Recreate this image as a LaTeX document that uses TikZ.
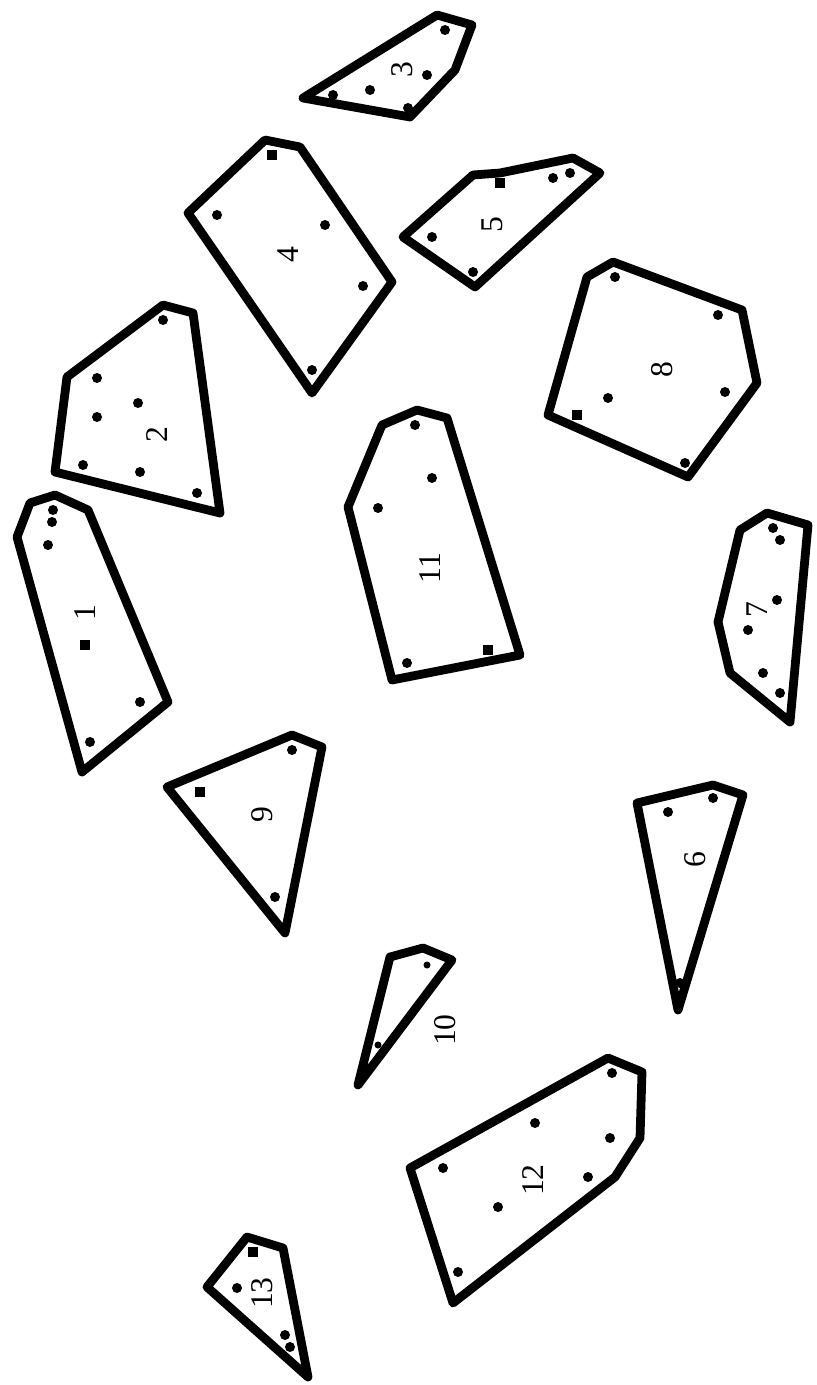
\documentclass[tikz,border=0pt]{standalone}
\usepackage{fontspec}
\setmainfont{Liberation Serif}
\tikzset{
  piece/.style={line width=5pt,line join=round},
  num/.style={rotate=90,font=\fontsize{18}{20}\selectfont,inner sep=0pt},
  pin/.style={fill=black}
}
\begin{document}
\begin{tikzpicture}[x=0.2mm,y=-0.2mm]
  \useasboundingbox (0,0) rectangle (817,1385);
  \def\r{5}
  % piece 1
  \draw[piece] (55,495)--(88,510)--(168,702)--(82,772)--(17,537)--(30,503)--cycle;
  \foreach \p in {(53,510),(52,522),(48,545),(140,702),(90,742)} \fill[pin] \p circle (\r);
  \fill[pin] (80,640) rectangle (90,650);
  \node[num] (l1) at (85,613) {1};
  % piece 2
  \draw[piece] (163,305)--(193,313)--(220,513)--(55,472)--(67,377)--cycle;
  \foreach \p in {(163,320),(97,378),(138,403),(97,417),(83,465),(140,472),(197,493)} \fill[pin] \p circle (\r);
  \node[num] (l2) at (157,435) {2};
  % piece 3
  \draw[piece] (303,98)--(437,15)--(472,25)--(455,70)--(410,117)--cycle;
  \foreach \p in {(445,30),(370,90),(427,75),(333,95),(408,108)} \fill[pin] \p circle (\r);
  \node[num] (l3) at (402,70) {3};
  % piece 4
  \draw[piece] (265,140)--(300,147)--(392,282)--(312,393)--(188,213)--cycle;
  \foreach \p in {(217,215),(325,225),(363,286),(312,370)} \fill[pin] \p circle (\r);
  \fill[pin] (267,150) rectangle (277,160);
  \node[num] (l4) at (288,255) {4};
  % piece 5
  \draw[piece] (403,237)--(473,175)--(500,173)--(573,158)--(600,173)--(475,287)--cycle;
  \foreach \p in {(553,178),(570,173),(432,237),(473,272)} \fill[pin] \p circle (\r);
  \fill[pin] (495,178) rectangle (505,188);
  \node[num] (l5) at (492,225) {5};
  % piece 6
  \draw[piece] (637,803)--(713,785)--(743,795)--(678,1010)--cycle;
  \foreach \p in {(668,812),(713,798),(680,983)} \fill[pin] \p circle (\r);
  \node[num] (l6) at (695,860) {6};
  % piece 7
  \draw[piece] (740,530)--(767,513)--(808,525)--(790,722)--(730,673)--(718,622)--cycle;
  \foreach \p in {(773,528),(780,540),(777,600),(748,630),(763,673),(780,693)} \fill[pin] \p circle (\r);
  \node[num] (l7) at (757,610) {7};
  % piece 8
  \draw[piece] (587,277)--(613,262)--(742,310)--(757,383)--(688,477)--(548,415)--cycle;
  \foreach \p in {(615,277),(718,315),(725,392),(608,398),(685,463)} \fill[pin] \p circle (\r);
  \fill[pin] (572,410) rectangle (582,420);
  \node[num] (l8) at (662,370) {8};
  % piece 9
  \draw[piece] (167,787)--(292,735)--(322,747)--(285,933)--cycle;
  \foreach \p in {(292,750),(275,897)} \fill[pin] \p circle (\r);
  \fill[pin] (195,787) rectangle (205,797);
  \node[num] (l9) at (262,815) {9};
  % piece 10
  \draw[piece] (390,957)--(423,948)--(452,960)--(358,1085)--cycle;
  \foreach \p in {(427,965),(378,1045)} \fill[pin] \p circle (3.5);
  \node[num] (l10) at (445,1030) {10};
  % piece 11
  \draw[piece] (382,425)--(417,410)--(447,418)--(520,655)--(392,680)--(348,507)--cycle;
  \foreach \p in {(415,425),(432,478),(378,508),(407,663)} \fill[pin] \p circle (\r);
  \fill[pin] (483,645) rectangle (493,655);
  \node[num] (l11) at (430,568) {11};
  % piece 12
  \draw[piece] (410,1168)--(608,1058)--(642,1072)--(640,1138)--(615,1177)--(453,1303)--cycle;
  \foreach \p in {(443,1168),(612,1073),(535,1123),(610,1138),(588,1177),(498,1207),(458,1272)} \fill[pin] \p circle (\r);
  \node[num] (l12) at (533,1180) {12};
  % piece 13
  \draw[piece] (207,1287)--(247,1237)--(283,1248)--(308,1377)--cycle;
  \foreach \p in {(237,1288),(285,1335),(290,1347)} \fill[pin] \p circle (\r);
  \fill[pin] (248,1247) rectangle (258,1257);
  \node[num] (l13) at (262,1293) {13};
\end{tikzpicture}
\end{document}
